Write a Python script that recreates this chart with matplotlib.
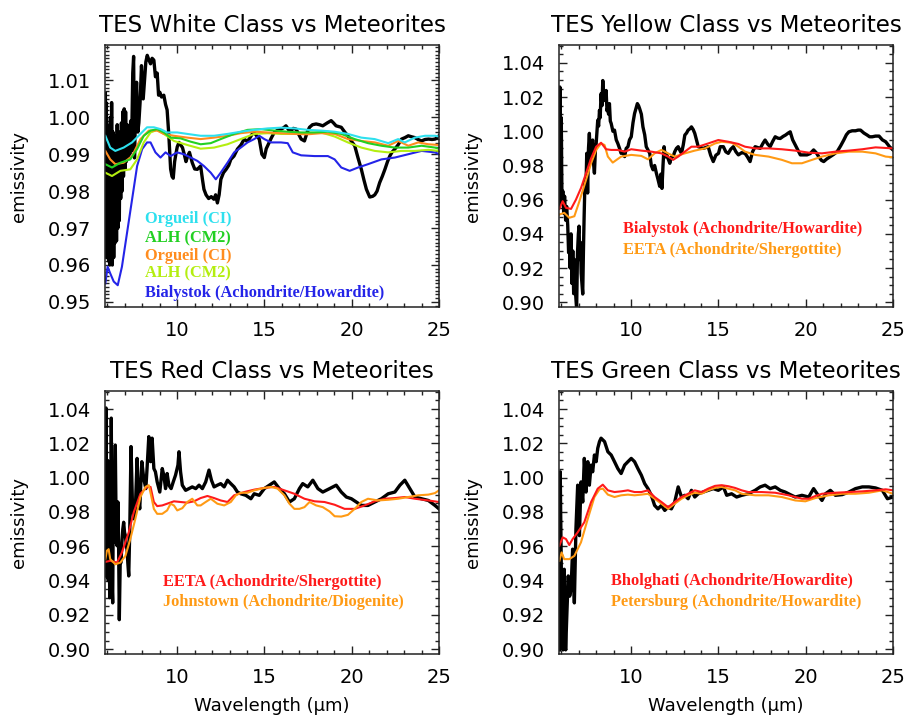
import matplotlib.pyplot as plt
from matplotlib.ticker import MultipleLocator

# ---------------- TES White Class ----------------
white_tes_x = [5.88, 5.90, 5.92, 5.95, 5.98, 6.01, 6.04, 6.07, 6.10, 6.13, 6.17, 6.20, 6.24, 6.28, 6.32, 6.36,
               6.40, 6.44, 6.48, 6.52, 6.56, 6.60, 6.64, 6.68, 6.72, 6.76, 6.80, 6.84, 6.88, 6.92, 6.96, 7.00,
               7.04, 7.08, 7.13, 7.18, 7.23, 7.28, 7.33, 7.38, 7.45, 7.50, 7.55, 7.62, 7.67, 7.74, 7.80, 7.87,
               7.95, 8.05, 8.12, 8.20, 8.28, 8.38, 8.47, 8.56, 8.66, 8.75, 8.85, 8.93, 9.00, 9.10, 9.23, 9.33,
               9.42, 9.52, 9.62, 9.70, 9.77, 9.85, 9.92, 10.0, 10.1, 10.2, 10.3, 10.4, 10.5, 10.6, 10.7, 10.86,
               11.0, 11.15, 11.34, 11.45, 11.53, 11.65, 11.8, 11.95, 12.1, 12.2, 12.3, 12.4, 12.5, 12.65, 12.8,
               12.95, 13.07, 13.25, 13.45, 13.65, 13.84, 14.0, 14.12, 14.3, 14.41, 14.55, 14.7, 14.85, 14.99,
               15.1, 15.27, 15.4, 15.56, 15.75, 15.95, 16.1, 16.23, 16.4, 16.52, 16.65, 16.81, 16.95, 17.1,
               17.29, 17.45, 17.58, 17.75, 17.96, 18.15, 18.34, 18.6, 18.82, 18.95, 19.1, 19.25, 19.4, 19.6,
               19.78, 19.98, 20.17, 20.36, 20.55, 20.7, 20.84, 21.03, 21.2, 21.32, 21.45, 21.6, 21.75, 21.9,
               22.05, 22.18, 22.3, 22.47, 22.65, 22.85, 23.05, 23.24, 23.45, 23.62, 23.8, 24.0, 24.2, 24.4,
               24.6, 24.77, 24.9, 25.0]
white_tes_y = [1.0065, 0.975, 1.0040, 0.962, 0.998, 0.968, 0.9925, 0.961, 0.985, 0.960, 1.0000, 0.963, 1.0040,
               0.9600, 0.9960, 0.962, 0.9860, 0.966, 0.995, 0.9665, 0.998, 0.970, 0.9905, 0.9720, 0.9960, 0.978,
               0.9985, 0.980, 1.0015, 0.984, 1.0023, 0.986, 1.0015, 0.988, 0.9980, 0.989, 0.9930, 0.990, 0.9990,
               0.991, 1.0120, 1.0165, 0.9890, 1.0030, 1.0095, 0.9960, 0.9985, 1.0040, 1.0140, 1.0050, 1.0095,
               1.0150, 1.0168, 1.0155, 1.0145, 1.0160, 1.0155, 1.0110, 1.0120, 1.0060, 1.0068, 1.0055, 1.0060,
               1.0035, 1.0020, 0.9950, 0.9860, 0.9840, 0.9835, 0.9880, 0.9900, 0.9920, 0.9932, 0.9925, 0.9918,
               0.9900, 0.9880, 0.9895, 0.9905, 0.9877, 0.9860, 0.9859, 0.9868, 0.9830, 0.9805, 0.9790, 0.9780,
               0.9785, 0.9778, 0.9790, 0.9768, 0.9790, 0.9832, 0.9850, 0.9859, 0.9870, 0.9886, 0.9895, 0.9914,
               0.9925, 0.9941, 0.9935, 0.9941, 0.9955, 0.9959, 0.9950, 0.9941, 0.9900, 0.9891, 0.9915, 0.9932,
               0.9945, 0.9959, 0.9965, 0.9968, 0.9972, 0.9977, 0.9965, 0.9964, 0.9970, 0.9968, 0.9955, 0.9941,
               0.9936, 0.9960, 0.9973, 0.9980, 0.9982, 0.9980, 0.9977, 0.9985, 0.9991, 0.9985, 0.9977, 0.9975,
               0.9973, 0.9960, 0.9950, 0.9935, 0.9923, 0.9890, 0.9859, 0.9830, 0.9805, 0.9784, 0.9786, 0.9790,
               0.9800, 0.9823, 0.9840, 0.9859, 0.9880, 0.9895, 0.9905, 0.9914, 0.9925, 0.9941, 0.9945, 0.9950,
               0.9947, 0.9945, 0.9940, 0.9936, 0.9940, 0.9941, 0.9940, 0.9941, 0.9945, 0.9950]

white_cyan_x = [5.88, 6.16, 6.45, 6.93, 7.41, 7.89, 8.27, 8.66, 9.04, 9.42, 10.0, 10.58, 11.34, 12.11, 12.88,
                13.64, 14.41, 15.18, 15.95, 16.71, 17.48, 18.25, 19.02, 19.78, 20.55, 21.32, 22.09, 22.66,
                23.04, 23.62, 24.2, 24.77, 25.0]
white_cyan_y = [0.9950, 0.9918, 0.9909, 0.9918, 0.9932, 0.9955, 0.9973, 0.9973, 0.9968, 0.9959, 0.9959, 0.9955,
                0.9950, 0.9950, 0.9955, 0.9961, 0.9966, 0.9970, 0.9972, 0.9970, 0.9966, 0.9964, 0.9961, 0.9955,
                0.9945, 0.9941, 0.9930, 0.9941, 0.9932, 0.9945, 0.9950, 0.9950, 0.9948]

white_green_x = [5.88, 6.26, 6.74, 7.31, 7.70, 8.08, 8.47, 8.85, 9.23, 9.62, 10.19, 10.77, 11.34, 11.92, 12.49,
                 13.26, 14.03, 14.80, 15.56, 16.33, 17.10, 17.87, 18.63, 19.40, 20.17, 20.93, 21.70, 22.47,
                 23.24, 24.0, 24.77, 25.0]
white_green_y = [0.9873, 0.9864, 0.9877, 0.9886, 0.9914, 0.9950, 0.9964, 0.9968, 0.9959, 0.9945, 0.9943, 0.9934,
                 0.9927, 0.9930, 0.9941, 0.9955, 0.9966, 0.9968, 0.9964, 0.9961, 0.9959, 0.9959, 0.9961, 0.9955,
                 0.9941, 0.9930, 0.9923, 0.9918, 0.9918, 0.9923, 0.9918, 0.9915]

white_orange_x = [5.88, 6.16, 6.45, 6.93, 7.41, 7.89, 8.37, 8.85, 9.23, 9.81, 10.58, 11.34, 12.11, 12.88, 13.64,
                  14.41, 15.18, 15.95, 16.71, 17.48, 18.25, 19.02, 19.78, 20.55, 21.32, 22.09, 22.66, 23.24,
                  23.81, 24.39, 25.0]
white_orange_y = [0.9909, 0.9886, 0.9873, 0.9877, 0.9895, 0.9941, 0.9964, 0.9964, 0.9955, 0.9950, 0.9945, 0.9941,
                  0.9945, 0.9950, 0.9957, 0.9961, 0.9959, 0.9957, 0.9955, 0.9954, 0.9957, 0.9955, 0.9941, 0.9936,
                  0.9932, 0.9923, 0.9936, 0.9923, 0.9932, 0.9927, 0.9925]

white_lime_x = [5.88, 6.26, 6.74, 7.31, 7.70, 8.08, 8.47, 8.85, 9.23, 9.81, 10.58, 11.34, 12.11, 12.88, 13.64,
                14.41, 15.18, 15.95, 16.71, 17.48, 18.25, 19.02, 19.78, 20.55, 21.32, 22.09, 22.85, 23.62,
                24.39, 25.0]
white_lime_y = [0.9850, 0.9841, 0.9855, 0.9859, 0.9886, 0.9932, 0.9959, 0.9966, 0.9955, 0.9936, 0.9925, 0.9915,
                0.9918, 0.9927, 0.9941, 0.9955, 0.9957, 0.9955, 0.9955, 0.9957, 0.9959, 0.9948, 0.9932, 0.9918,
                0.9909, 0.9905, 0.9909, 0.9909, 0.9912, 0.9909]

white_blue_x = [5.88, 6.01, 6.16, 6.36, 6.59, 6.83, 7.12, 7.41, 7.70, 7.99, 8.27, 8.47, 8.75, 9.04, 9.33, 9.62,
                10.0, 10.38, 10.77, 11.15, 11.53, 11.92, 12.21, 12.49, 12.88, 13.26, 13.64, 14.03, 14.41, 14.70,
                14.99, 15.37, 15.95, 16.33, 16.62, 17.10, 17.87, 18.63, 19.02, 19.40, 19.88, 20.36, 20.93,
                21.70, 22.47, 23.24, 24.0, 24.77, 25.0]
white_blue_y = [0.9550, 0.9595, 0.9577, 0.9555, 0.9545, 0.9595, 0.9686, 0.9777, 0.9868, 0.9914, 0.9932, 0.9932,
                0.9905, 0.9891, 0.9905, 0.9895, 0.9905, 0.9900, 0.9891, 0.9882, 0.9868, 0.9850, 0.9832, 0.9850,
                0.9877, 0.9905, 0.9918, 0.9932, 0.9941, 0.9950, 0.9941, 0.9932, 0.9932, 0.9930, 0.9905, 0.9897,
                0.9895, 0.9895, 0.9886, 0.9864, 0.9855, 0.9864, 0.9873, 0.9886, 0.9891, 0.9900, 0.9909, 0.9905,
                0.9900]

white_labels = ["Orgueil (CI)", "ALH (CM2)", "Orgueil (CI)", "ALH (CM2)", "Bialystok (Achondrite/Howardite)"]

# ---------------- TES Yellow Class ----------------
yellow_tes_x = [5.88, 5.91, 5.95, 5.99, 6.03, 6.08, 6.13, 6.18, 6.24, 6.30, 6.36, 6.41, 6.45, 6.50, 6.55, 6.60,
                6.65, 6.70, 6.74, 6.79, 6.83, 6.87, 6.92, 6.97, 7.01, 7.05, 7.09, 7.13, 7.18, 7.22, 7.26, 7.30,
                7.35, 7.40, 7.45, 7.50, 7.55, 7.60, 7.65, 7.70, 7.79, 7.85, 7.89, 7.95, 7.99, 8.04, 8.08, 8.13,
                8.18, 8.22, 8.27, 8.32, 8.37, 8.42, 8.47, 8.52, 8.56, 8.61, 8.66, 8.70, 8.75, 8.80, 8.85, 8.95,
                9.04, 9.14, 9.23, 9.33, 9.42, 9.52, 9.62, 9.71, 9.81, 9.90, 10.0, 10.1, 10.19, 10.29, 10.35,
                10.42, 10.48, 10.58, 10.67, 10.77, 10.86, 10.96, 11.06, 11.15, 11.25, 11.34, 11.44, 11.53, 11.63,
                11.70, 11.76, 11.82, 11.88, 11.95, 12.01, 12.11, 12.21, 12.30, 12.40, 12.49, 12.59, 12.69, 12.78,
                12.88, 12.98, 13.07, 13.17, 13.26, 13.36, 13.45, 13.55, 13.64, 13.74, 13.84, 13.98, 14.12, 14.26,
                14.41, 14.55, 14.70, 14.85, 15.0, 15.1, 15.28, 15.42, 15.56, 15.70, 15.85, 16.0, 16.14, 16.33,
                16.52, 16.66, 16.81, 16.95, 17.10, 17.25, 17.39, 17.55, 17.67, 17.82, 17.96, 18.1, 18.25, 18.40,
                18.54, 18.7, 18.84, 19.0, 19.11, 19.25, 19.40, 19.55, 19.69, 19.88, 20.07, 20.26, 20.45, 20.6,
                20.74, 20.9, 21.03, 21.2, 21.41, 21.6, 21.80, 22.0, 22.18, 22.33, 22.47, 22.66, 22.85, 23.0,
                23.14, 23.33, 23.52, 23.66, 23.81, 24.0, 24.2, 24.39, 24.58, 24.8, 25.0]
yellow_tes_y = [0.9560, 1.0259, 0.9600, 1.0080, 0.9590, 0.9650, 0.9520, 0.9620, 0.9480, 0.9560, 0.9450, 0.9290,
                0.9360, 0.9200, 0.9400, 0.9110, 0.9300, 0.9050, 0.9250, 0.9080, 0.9020, 0.8960, 0.9290, 0.9400,
                0.9445, 0.9250, 0.9350, 0.9170, 0.9100, 0.9048, 0.9300, 0.9500, 0.9716, 0.9650, 0.9871, 0.9639,
                0.9900, 0.9988, 0.9850, 0.9910, 0.9949, 0.9800, 0.9755, 0.9900, 0.9929, 1.0000, 1.0065, 1.0030,
                1.0123, 1.0080, 1.0220, 1.0150, 1.0297, 1.0180, 1.0181, 1.0200, 1.0239, 1.0120, 1.0142, 1.0100,
                1.0162, 1.0060, 1.0046, 1.0000, 1.0007, 0.9950, 0.9929, 0.9900, 0.9871, 0.9880, 0.9852, 0.9900,
                0.9910, 0.9950, 0.9968, 1.0050, 1.0104, 1.0140, 1.0162, 1.0150, 1.0133, 1.0100, 1.0026, 0.9980,
                0.9910, 0.9890, 0.9871, 0.9800, 0.9775, 0.9800, 0.9755, 0.9720, 0.9678, 0.9750, 0.9666, 0.9800,
                0.9910, 0.9850, 0.9871, 0.9840, 0.9813, 0.9850, 0.9852, 0.9880, 0.9900, 0.9910, 0.9890, 0.9871,
                0.9920, 0.9978, 0.9990, 1.0007, 1.0015, 1.0026, 1.0010, 0.9988, 0.9950, 0.9910, 0.9905, 0.9900,
                0.9905, 0.9910, 0.9860, 0.9823, 0.9860, 0.9871, 0.9910, 0.9910, 0.9880, 0.9871, 0.9895, 0.9910,
                0.9880, 0.9862, 0.9875, 0.9871, 0.9850, 0.9823, 0.9880, 0.9910, 0.9905, 0.9900, 0.9930, 0.9949,
                0.9925, 0.9910, 0.9940, 0.9968, 0.9960, 0.9958, 0.9970, 0.9978, 0.9990, 0.9997, 0.9950, 0.9920,
                0.9890, 0.9862, 0.9862, 0.9862, 0.9870, 0.9891, 0.9875, 0.9852, 0.9830, 0.9823, 0.9838, 0.9852,
                0.9865, 0.9881, 0.9915, 0.9949, 0.9980, 0.9997, 1.0003, 1.0003, 1.0007, 1.0007, 0.9990, 0.9978,
                0.9968, 0.9968, 0.9972, 0.9972, 0.9950, 0.9939, 0.9910, 0.9891]

yellow_red_x = [5.88, 6.07, 6.26, 6.55, 6.83, 7.12, 7.41, 7.70, 7.99, 8.27, 8.56, 8.85, 9.23, 9.62, 10.0, 10.58,
                11.15, 11.73, 12.11, 12.40, 12.69, 13.07, 13.45, 13.84, 14.41, 14.99, 15.56, 16.14, 16.52, 17.10,
                17.87, 18.63, 19.40, 20.17, 20.93, 21.70, 22.47, 23.24, 24.0, 25.0]
yellow_red_y = [0.9546, 0.9591, 0.9552, 0.9546, 0.9600, 0.9668, 0.9755, 0.9842, 0.9910, 0.9933, 0.9895, 0.9891,
                0.9891, 0.9881, 0.9895, 0.9887, 0.9881, 0.9871, 0.9852, 0.9833, 0.9852, 0.9881, 0.9910, 0.9910,
                0.9929, 0.9949, 0.9939, 0.9926, 0.9910, 0.9900, 0.9900, 0.9895, 0.9887, 0.9875, 0.9871, 0.9881,
                0.9887, 0.9895, 0.9906, 0.9900]

yellow_orange_x = [5.88, 6.16, 6.45, 6.74, 7.03, 7.41, 7.70, 7.99, 8.27, 8.47, 8.66, 8.94, 9.42, 10.0, 10.58,
                   10.96, 11.34, 11.73, 12.11, 12.49, 13.07, 13.64, 14.22, 14.80, 15.18, 15.75, 16.14, 16.52,
                   17.10, 17.87, 18.63, 19.21, 19.78, 20.36, 20.93, 21.70, 22.47, 23.24, 24.0, 24.58, 25.0]
yellow_orange_y = [0.9513, 0.9523, 0.9494, 0.9503, 0.9591, 0.9716, 0.9813, 0.9891, 0.9929, 0.9920, 0.9852, 0.9817,
                   0.9852, 0.9862, 0.9856, 0.9836, 0.9871, 0.9891, 0.9871, 0.9852, 0.9871, 0.9887, 0.9900, 0.9929,
                   0.9939, 0.9933, 0.9910, 0.9881, 0.9862, 0.9852, 0.9833, 0.9813, 0.9813, 0.9833, 0.9852, 0.9871,
                   0.9881, 0.9881, 0.9871, 0.9852, 0.9848]

yellow_labels = ["Bialystok (Achondrite/Howardite)", "EETA (Achondrite/Shergottite)"]

# ---------------- TES Red Class ----------------
red_tes_x = [5.88, 5.92, 5.97, 6.01, 6.05, 6.09, 6.13, 6.16, 6.20, 6.22, 6.26, 6.30, 6.33, 6.36, 6.40, 6.45,
             6.50, 6.55, 6.60, 6.64, 6.68, 6.73, 6.78, 6.83, 6.88, 6.93, 6.98, 7.03, 7.08, 7.12, 7.17, 7.22,
             7.28, 7.35, 7.43, 7.51, 7.60, 7.70, 7.77, 7.85, 7.97, 8.08, 8.20, 8.27, 8.37, 8.47, 8.56, 8.66,
             8.75, 8.85, 9.00, 9.14, 9.23, 9.33, 9.42, 9.52, 9.65, 9.77, 9.90, 10.04, 10.10, 10.19, 10.29,
             10.48, 10.67, 10.86, 11.06, 11.25, 11.44, 11.63, 11.82, 11.96, 12.11, 12.30, 12.49, 12.69, 12.88,
             13.07, 13.26, 13.45, 13.64, 13.93, 14.22, 14.41, 14.70, 14.99, 15.28, 15.56, 15.85, 16.14, 16.43,
             16.71, 17.00, 17.19, 17.48, 17.77, 18.06, 18.34, 18.73, 19.11, 19.40, 19.69, 19.98, 20.26, 20.55,
             20.93, 21.32, 21.70, 22.09, 22.47, 22.76, 23.04, 23.33, 23.62, 24.00, 24.39, 24.77, 25.0]
red_tes_y = [0.9505, 1.0406, 0.9420, 1.0100, 0.9400, 1.0050, 0.9300, 0.9800, 0.9500, 1.0347, 0.9400, 0.9270,
             0.9750, 0.9623, 0.9900, 1.0190, 0.9700, 0.9603, 0.9858, 0.9600, 0.9172, 0.9500, 0.9505, 0.9623,
             0.9700, 0.9740, 0.9680, 0.9662, 0.9600, 0.9583, 0.9500, 0.9427, 0.9701, 1.0181, 0.9858, 0.9760,
             0.9818, 1.0112, 0.9887, 0.9818, 1.0093, 0.9995, 0.9936, 1.0053, 1.0239, 1.0093, 1.0230, 1.0053,
             1.0034, 0.9975, 0.9916, 1.0053, 1.0014, 0.9936, 1.0024, 0.9956, 0.9936, 0.9975, 1.0014, 1.0073,
             1.0151, 1.0034, 0.9956, 0.9926, 0.9936, 0.9946, 0.9936, 0.9956, 0.9936, 0.9975, 1.0044, 0.9985,
             0.9946, 0.9956, 0.9965, 0.9946, 0.9985, 0.9965, 0.9946, 0.9916, 0.9906, 0.9897, 0.9877, 0.9906,
             0.9897, 0.9936, 0.9956, 0.9975, 0.9936, 0.9906, 0.9858, 0.9877, 0.9936, 0.9965, 0.9946, 0.9985,
             0.9936, 0.9916, 0.9936, 0.9956, 0.9916, 0.9887, 0.9877, 0.9858, 0.9838, 0.9838, 0.9858, 0.9877,
             0.9906, 0.9916, 0.9956, 0.9985, 0.9936, 0.9887, 0.9877, 0.9867, 0.9838, 0.9818]

red_red_x = [5.88, 6.16, 6.55, 6.83, 7.22, 7.51, 7.89, 8.27, 8.47, 8.66, 8.85, 9.14, 9.42, 9.81, 10.19, 10.58,
             10.96, 11.34, 11.73, 12.11, 12.49, 12.88, 13.26, 13.84, 14.41, 14.99, 15.56, 16.14, 16.71, 17.29,
             17.87, 18.44, 19.02, 19.59, 20.17, 20.74, 21.32, 21.89, 22.47, 23.04, 23.62, 24.39, 25.0]
red_red_y = [0.9509, 0.9515, 0.9505, 0.9564, 0.9681, 0.9799, 0.9906, 0.9946, 0.9946, 0.9858, 0.9834, 0.9838,
             0.9848, 0.9862, 0.9858, 0.9854, 0.9862, 0.9881, 0.9893, 0.9881, 0.9867, 0.9858, 0.9897, 0.9916,
             0.9930, 0.9940, 0.9946, 0.9926, 0.9906, 0.9877, 0.9862, 0.9858, 0.9842, 0.9818, 0.9818, 0.9838,
             0.9862, 0.9877, 0.9881, 0.9887, 0.9877, 0.9867, 0.9858]

red_orange_x = [5.88, 5.97, 6.07, 6.16, 6.45, 6.74, 7.03, 7.31, 7.60, 7.89, 8.18, 8.37, 8.50, 8.66, 8.85, 9.14,
                9.42, 9.62, 9.81, 10.0, 10.29, 10.58, 10.86, 11.15, 11.34, 11.63, 11.92, 12.30, 12.69, 13.07,
                13.36, 13.64, 14.03, 14.41, 14.99, 15.37, 15.75, 16.14, 16.43, 16.71, 17.00, 17.29, 17.58,
                17.96, 18.34, 18.73, 19.02, 19.40, 19.78, 20.17, 20.55, 20.93, 21.51, 22.09, 22.66, 23.24,
                23.81, 24.39, 24.77, 25.0]
red_orange_y = [0.9525, 0.9574, 0.9583, 0.9525, 0.9495, 0.9505, 0.9544, 0.9642, 0.9760, 0.9887, 0.9946, 0.9956,
                0.9897, 0.9818, 0.9789, 0.9789, 0.9809, 0.9848, 0.9838, 0.9809, 0.9822, 0.9858, 0.9877, 0.9838,
                0.9838, 0.9858, 0.9877, 0.9848, 0.9838, 0.9858, 0.9897, 0.9912, 0.9912, 0.9926, 0.9940, 0.9946,
                0.9936, 0.9897, 0.9848, 0.9818, 0.9818, 0.9828, 0.9858, 0.9838, 0.9828, 0.9803, 0.9775, 0.9773,
                0.9783, 0.9818, 0.9858, 0.9877, 0.9867, 0.9871, 0.9877, 0.9887, 0.9897, 0.9901, 0.9910, 0.9926]

red_labels = ["EETA (Achondrite/Shergottite)", "Johnstown (Achondrite/Diogenite)"]

# ---------------- TES Green Class ----------------
green_tes_x = [5.88, 5.93, 6.01, 6.09, 6.16, 6.24, 6.32, 6.39, 6.47, 6.55, 6.64, 6.74, 6.83, 6.93, 7.03, 7.12,
               7.22, 7.31, 7.41, 7.51, 7.60, 7.70, 7.79, 7.89, 7.99, 8.08, 8.18, 8.27, 8.47, 8.66, 8.85, 9.04,
               9.23, 9.42, 9.62, 9.81, 10.0, 10.19, 10.38, 10.58, 10.77, 10.96, 11.15, 11.34, 11.53, 11.73,
               11.92, 12.11, 12.30, 12.49, 12.69, 12.88, 13.07, 13.26, 13.45, 13.64, 13.84, 14.12, 14.41, 14.70,
               14.99, 15.28, 15.47, 15.75, 16.04, 16.33, 16.71, 17.10, 17.39, 17.67, 17.96, 18.25, 18.54, 18.82,
               19.11, 19.40, 19.78, 20.17, 20.45, 20.65, 20.93, 21.13, 21.41, 21.70, 22.09, 22.47, 22.85, 23.24,
               23.62, 24.0, 24.39, 24.68, 25.0]
green_tes_y = [0.8996, 1.0034, 0.9309, 0.8996, 0.9466, 0.8996, 0.9231, 0.9427, 0.9309, 0.9348, 0.9583, 0.9270,
               0.9701, 0.9956, 0.9662, 0.9975, 0.9858, 1.0112, 0.9916, 1.0093, 0.9956, 1.0073, 1.0034, 1.0132,
               1.0093, 1.0171, 1.0210, 1.0230, 1.0210, 1.0151, 1.0132, 1.0093, 1.0053, 1.0024, 1.0073, 1.0093,
               1.0112, 1.0093, 1.0053, 1.0014, 0.9965, 0.9936, 0.9897, 0.9838, 0.9818, 0.9838, 0.9809, 0.9828,
               0.9818, 0.9858, 0.9946, 0.9887, 0.9897, 0.9877, 0.9926, 0.9887, 0.9906, 0.9916, 0.9926, 0.9936,
               0.9926, 0.9946, 0.9897, 0.9906, 0.9887, 0.9897, 0.9906, 0.9926, 0.9946, 0.9956, 0.9936, 0.9946,
               0.9926, 0.9916, 0.9901, 0.9887, 0.9897, 0.9887, 0.9936, 0.9906, 0.9867, 0.9906, 0.9926, 0.9897,
               0.9901, 0.9916, 0.9936, 0.9946, 0.9946, 0.9940, 0.9926, 0.9877, 0.9887]

green_red_x = [5.88, 6.07, 6.26, 6.45, 6.64, 6.93, 7.31, 7.70, 8.08, 8.37, 8.66, 9.04, 9.42, 9.81, 10.19, 10.58,
               10.96, 11.34, 11.73, 12.11, 12.49, 12.88, 13.26, 13.64, 14.03, 14.41, 14.80, 15.18, 15.56, 15.95,
               16.33, 16.71, 17.48, 18.25, 19.02, 19.78, 20.17, 20.55, 20.93, 21.70, 22.47, 23.24, 24.0, 24.58,
               25.0]
green_red_y = [0.9603, 0.9652, 0.9642, 0.9607, 0.9642, 0.9681, 0.9740, 0.9858, 0.9936, 0.9959, 0.9926, 0.9916,
               0.9920, 0.9926, 0.9916, 0.9916, 0.9926, 0.9887, 0.9858, 0.9828, 0.9858, 0.9887, 0.9906, 0.9926,
               0.9916, 0.9936, 0.9952, 0.9956, 0.9950, 0.9940, 0.9926, 0.9916, 0.9916, 0.9912, 0.9897, 0.9877,
               0.9877, 0.9893, 0.9906, 0.9912, 0.9916, 0.9920, 0.9926, 0.9932, 0.9926]

green_orange_x = [5.88, 6.01, 6.16, 6.45, 6.74, 7.12, 7.51, 7.89, 8.18, 8.37, 8.66, 9.04, 9.42, 9.81, 10.19,
                  10.58, 10.96, 11.34, 11.73, 12.11, 12.49, 12.88, 13.26, 13.64, 14.03, 14.41, 14.80, 15.18,
                  15.56, 15.95, 16.33, 17.10, 17.87, 18.63, 19.40, 19.98, 20.55, 21.32, 22.09, 22.85, 23.62,
                  24.39, 25.0]
green_orange_y = [0.9515, 0.9564, 0.9525, 0.9525, 0.9544, 0.9623, 0.9760, 0.9887, 0.9932, 0.9936, 0.9901, 0.9887,
                  0.9897, 0.9901, 0.9897, 0.9901, 0.9906, 0.9877, 0.9848, 0.9818, 0.9848, 0.9877, 0.9897, 0.9912,
                  0.9906, 0.9926, 0.9940, 0.9946, 0.9936, 0.9926, 0.9906, 0.9897, 0.9897, 0.9887, 0.9867, 0.9862,
                  0.9881, 0.9897, 0.9906, 0.9906, 0.9912, 0.9926, 0.9906]

green_labels = ["Bholghati (Achondrite/Howardite)", "Petersburg (Achondrite/Howardite)"]

CYAN = '#2ee0ee'
GREEN = '#22d022'
ORANGE = '#ff8c1e'
LIME = '#b4ee10'
BLUE = '#2424e8'
RED = '#ff1a1a'
ORANGE2 = '#ff9a14'

fig = plt.figure(figsize=(9.08, 7.24), dpi=100)
W, H = 908, 724


def make_axes(left, top, right, bottom):
    return fig.add_axes([left / W, 1 - bottom / H, (right - left) / W, (bottom - top) / H])


ax1 = make_axes(105, 45, 439, 307)
ax2 = make_axes(559, 45, 893, 307)
ax3 = make_axes(105, 391, 439, 654)
ax4 = make_axes(559, 391, 893, 654)

lw_black = 2.4
lw_col = 1.5

ax1.plot(white_tes_x, white_tes_y, color='black', lw=lw_black)
ax1.plot(white_blue_x, white_blue_y, color=BLUE, lw=lw_col)
ax1.plot(white_lime_x, white_lime_y, color=LIME, lw=lw_col)
ax1.plot(white_orange_x, white_orange_y, color=ORANGE, lw=lw_col)
ax1.plot(white_green_x, white_green_y, color=GREEN, lw=lw_col)
ax1.plot(white_cyan_x, white_cyan_y, color=CYAN, lw=lw_col)

ax2.plot(yellow_tes_x, yellow_tes_y, color='black', lw=lw_black)
ax2.plot(yellow_orange_x, yellow_orange_y, color=ORANGE2, lw=lw_col)
ax2.plot(yellow_red_x, yellow_red_y, color=RED, lw=lw_col)

ax3.plot(red_tes_x, red_tes_y, color='black', lw=lw_black)
ax3.plot(red_red_x, red_red_y, color=RED, lw=lw_col)
ax3.plot(red_orange_x, red_orange_y, color=ORANGE2, lw=lw_col)

ax4.plot(green_tes_x, green_tes_y, color='black', lw=lw_black)
ax4.plot(green_orange_x, green_orange_y, color=ORANGE2, lw=lw_col)
ax4.plot(green_red_x, green_red_y, color=RED, lw=lw_col)

serif = dict(family='Liberation Serif', weight='bold', fontsize=11.8, va='center', ha='left')
for lab, yy, c in zip(white_labels, [0.9725, 0.9673, 0.9625, 0.9577, 0.9525],
                      [CYAN, GREEN, ORANGE, LIME, BLUE]):
    ax1.text(8.18, yy, lab, color=c, **serif)
for lab, yy, c in zip(yellow_labels, [0.9426, 0.9306], [RED, ORANGE2]):
    ax2.text(9.52, yy, lab, color=c, **serif)
for lab, yy, c in zip(red_labels, [0.9392, 0.9274], [RED, ORANGE2]):
    ax3.text(9.18, yy, lab, color=c, **serif)
for lab, yy, c in zip(green_labels, [0.9397, 0.9278], [RED, ORANGE2]):
    ax4.text(8.85, yy, lab, color=c, **serif)

titles = ["TES White Class vs Meteorites", "TES Yellow Class vs Meteorites",
          "TES Red Class vs Meteorites", "TES Green Class vs Meteorites"]

for i, ax in enumerate([ax1, ax2, ax3, ax4]):
    ax.set_xlim(5.86, 25.0)
    ax.xaxis.set_major_locator(MultipleLocator(5))
    ax.xaxis.set_minor_locator(MultipleLocator(1))
    if i == 0:
        ax.set_ylim(0.9486, 1.0196)
        ax.yaxis.set_major_locator(MultipleLocator(0.01))
        ax.yaxis.set_minor_locator(MultipleLocator(0.001))
    else:
        ax.set_ylim(0.8972, 1.0505)
        ax.yaxis.set_major_locator(MultipleLocator(0.02))
        ax.yaxis.set_minor_locator(MultipleLocator(0.005))
    ax.yaxis.set_major_formatter(plt.FormatStrFormatter('%.2f'))
    ax.tick_params(which='both', direction='in', top=True, right=True, width=1.0, color='#222222')
    ax.tick_params(which='major', length=5.5, labelsize=14, pad=10)
    ax.tick_params(which='minor', length=2.8)
    for sp in ax.spines.values():
        sp.set_linewidth(1.1)
        sp.set_color('#222222')
    ax.set_title(titles[i], fontsize=16.6, pad=9)
    ax.set_ylabel('emissivity', fontsize=13)
    ax.yaxis.set_label_coords(-0.23, 0.5)
    if i >= 2:
        ax.set_xlabel('Wavelength (\u03bcm)', fontsize=13)
        ax.xaxis.set_label_coords(0.5, -0.165)

fig.savefig('out.png', dpi=100)
